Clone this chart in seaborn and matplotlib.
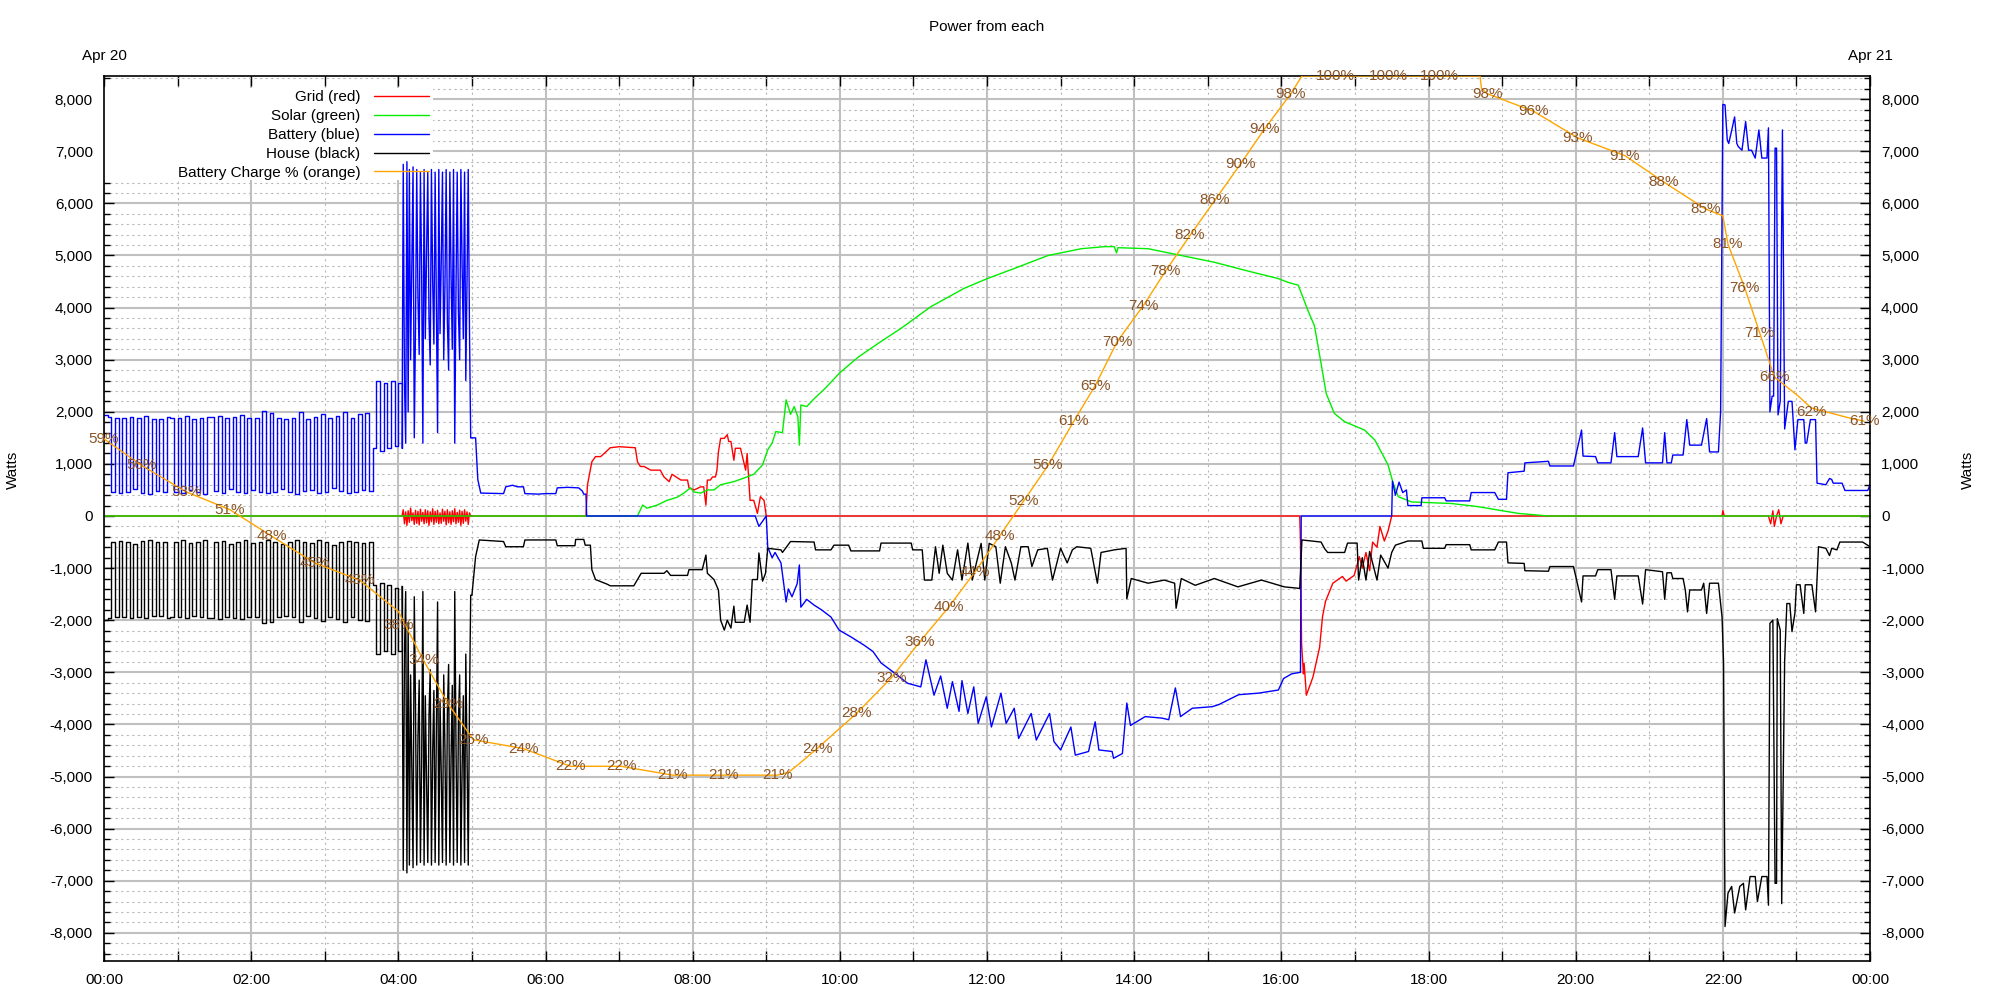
import numpy as np
import pandas as pd
import seaborn as sns
import matplotlib.pyplot as plt
from matplotlib.lines import Line2D
from matplotlib.patches import Rectangle
from matplotlib.ticker import MultipleLocator

# ---- data (time in hours since midnight Apr 20, power in watts) ----
# early-morning battery / house cycling, one sample every 3 minutes from 00:00
batt_a = [1940, 1900, 470, 1880, 450, 1890, 460, 1900, 520, 1880,
          450, 1910, 430, 1870, 480, 1860, 460, 1900, 1880, 470,
          1890, 440, 1910, 500, 1870, 460, 1880, 430, 1900, 1900,
          480, 1920, 450, 1880, 510, 1900, 470, 1930, 440, 1880,
          500, 1890, 460, 2010, 440, 1980, 470, 1880, 520, 1860,
          460, 1890, 430, 1990, 480, 1870, 500, 1900, 440, 1960,
          460, 1880, 530, 1920, 480, 1990, 450, 1880, 470, 1950,
          500, 1970, 480,
          1300, 2600, 1250, 2550, 1300, 2600, 1350, 2550, 1300]
house_a = [-1990, -1950, -500, -1930, -480, -1940, -490, -1950, -540, -1930,
           -480, -1960, -460, -1920, -500, -1910, -490, -1950, -1930, -500,
           -1940, -470, -1960, -520, -1920, -490, -1930, -460, -1950, -1950,
           -500, -1970, -480, -1930, -530, -1950, -500, -1980, -470, -1930,
           -520, -1940, -490, -2060, -470, -2030, -500, -1930, -540, -1910,
           -490, -1940, -460, -2040, -500, -1920, -520, -1950, -470, -2010,
           -490, -1930, -550, -1970, -500, -2040, -480, -1930, -500, -2000,
           -520, -2020, -500,
           -1330, -2640, -1290, -2590, -1330, -2640, -1380, -2590, -1340]

# 04:03 - 05:00, one sample per minute
batt_b = [1300, 6750, 2600, 1400, 6800, 2000, 6650, 3000, 4800, 6700,
          1500, 3600, 6650, 4200, 3100, 6600, 4700, 1400, 6650, 3400,
          5000, 6600, 3800, 2900, 6650, 4500, 3300, 6600, 4100, 1600,
          6650, 3500, 4900, 6600, 3000, 4400, 6650, 3700, 2800, 6600,
          4600, 3200, 6650, 1400, 4300, 6600, 3900, 3000, 6650, 4800,
          3400, 6600, 2600, 4500, 6650, 3600, 1500, 1500]
house_b = [-1350, -6800, -2650, -1450, -6850, -2050, -6700, -3050, -4850, -6750,
           -1550, -3650, -6700, -4250, -3150, -6650, -4750, -1450, -6700, -3450,
           -5050, -6650, -3850, -2950, -6700, -4550, -3350, -6650, -4150, -1650,
           -6700, -3550, -4950, -6650, -3050, -4450, -6700, -3750, -2850, -6650,
           -4650, -3250, -6700, -1450, -4350, -6650, -3950, -3050, -6700, -4850,
           -3450, -6650, -2650, -4550, -6700, -3650, -1520, -1520]
grid_b = [0, 120, -150, 80, -180, 100, -120, 150, -90, 60,
          -160, 110, -140, 90, -170, 130, -100, 70, -150, 120,
          -130, 100, -180, 80, -110, 140, -160, 90, -120, 110,
          -150, 60, -140, 130, -100, 90, -170, 120, -130, 80,
          -160, 100, -110, 140, -150, 70, -120, 110, -180, 90,
          -140, 120, -100, 80, -160, 60, 0, 0]

grid_t = [0, 4.05, 5.0, 6.55, 6.57, 6.63, 6.68, 6.75, 6.82, 6.88, 7.0, 7.22, 7.25, 7.29,
          7.34, 7.43, 7.56, 7.61, 7.68, 7.72, 7.84, 7.93, 7.95, 8.02, 8.11, 8.15, 8.18,
          8.2, 8.24, 8.27, 8.31, 8.33, 8.35, 8.38, 8.43, 8.47, 8.49, 8.52, 8.56, 8.58,
          8.65, 8.72, 8.74, 8.78, 8.83, 8.88, 8.92, 8.97, 9.0, 16.25, 16.26, 16.275,
          16.3, 16.31, 16.34, 16.43, 16.52, 16.56, 16.6, 16.7, 16.83, 16.88, 16.99,
          17.06, 17.1, 17.15, 17.2, 17.24, 17.3, 17.34, 17.4, 17.45, 17.5, 21.99, 22.0,
          22.02, 22.62, 22.65, 22.68, 22.7, 22.73, 22.76, 22.79, 22.82, 24.0]
grid_w = [0, 0, 0, 0, 595, 1040, 1140, 1140, 1230, 1310, 1330, 1310, 1040, 950,
          950, 880, 880, 750, 660, 800, 690, 690, 540, 500, 560, 560, 210,
          690, 690, 750, 750, 880, 1230, 1490, 1490, 1560, 1430, 1430, 1070, 1300,
          1300, 880, 1200, 300, 300, 50, 370, 300, 0, 0, -490, -2440,
          -3030, -2830, -3440, -3090, -2520, -1930, -1640, -1290, -1160, -1250, -1140,
          -780, -1000, -700, -1050, -500, -600, -200, -480, -290, 0, 0, 100,
          0, 0, -150, 100, -200, 0, 120, -150, 0, 0]

solar_t = [0, 7.25, 7.32, 7.38, 7.52, 7.65, 7.79, 7.88, 7.97, 8.02, 8.11, 8.2, 8.29,
           8.38, 8.56, 8.74, 8.83, 8.95, 9.02, 9.08, 9.13, 9.22, 9.27, 9.33, 9.38,
           9.43, 9.45, 9.47, 9.55, 9.65, 9.8, 10.0, 10.25, 10.56, 10.83, 11.24,
           11.69, 12.01, 12.37, 12.83, 13.28, 13.6, 13.73, 13.76, 13.78, 14.19,
           14.64, 15.09, 15.55, 15.95, 16.1, 16.23, 16.36, 16.45, 16.54, 16.61,
           16.72, 16.86, 17.13, 17.27, 17.38, 17.45, 17.52, 17.59, 17.77, 18.31,
           18.67, 19.22, 19.63, 24.0]
solar_w = [0, 0, 210, 150, 210, 300, 360, 440, 540, 460, 440, 500, 500,
           600, 660, 750, 800, 980, 1270, 1400, 1620, 1600, 2230, 1950, 2100,
           1900, 1360, 2130, 2100, 2250, 2450, 2750, 3050, 3350, 3600, 4020,
           4370, 4560, 4750, 5000, 5130, 5170, 5170, 5050, 5150, 5130,
           5000, 4870, 4700, 4560, 4480, 4430, 3950, 3650, 2930, 2350,
           1970, 1810, 1650, 1460, 1170, 980, 630, 370, 270, 240,
           180, 50, 0, 0]

batt_t = [5.0, 5.05, 5.08, 5.12, 5.43, 5.46, 5.55, 5.62, 5.7, 5.72, 5.9, 6.0, 6.14,
          6.16, 6.3, 6.45, 6.5, 6.52, 6.55, 6.56, 8.85, 8.9, 8.95, 9.0, 9.02, 9.08,
          9.12, 9.2, 9.27, 9.3, 9.35, 9.42, 9.45, 9.47, 9.55, 9.65, 9.75, 9.88, 9.99,
          10.15, 10.33, 10.45, 10.56, 10.74, 10.92, 11.1, 11.17, 11.28, 11.37, 11.46,
          11.53, 11.62, 11.66, 11.74, 11.82, 11.88, 11.99, 12.06, 12.19, 12.26, 12.37,
          12.43, 12.6, 12.67, 12.85, 12.91, 13.0, 13.14, 13.2, 13.38, 13.47, 13.52,
          13.7, 13.72, 13.84, 13.9, 13.95, 14.15, 14.38, 14.47, 14.56, 14.63, 14.79,
          15.06, 15.15, 15.42, 15.69, 15.96, 16.03, 16.14, 16.26, 16.27, 17.5, 17.51,
          17.55, 17.6, 17.65, 17.7, 17.72, 17.9, 17.91, 18.22, 18.24, 18.56, 18.58,
          18.9, 18.95, 19.06, 19.08, 19.3, 19.31, 19.63, 19.65, 19.97, 20.0, 20.08,
          20.1, 20.27, 20.3, 20.48, 20.53, 20.56, 20.85, 20.91, 20.95, 21.18, 21.21,
          21.24, 21.3, 21.32, 21.46, 21.51, 21.55, 21.71, 21.78, 21.82, 21.94, 21.97,
          22.0, 22.03, 22.06, 22.08, 22.12, 22.16, 22.19, 22.21, 22.26, 22.31, 22.35,
          22.39, 22.44, 22.49, 22.53, 22.6, 22.62, 22.64, 22.67, 22.69, 22.71, 22.73,
          22.75, 22.78, 22.81, 22.84, 22.89, 22.94, 22.98, 23.02, 23.1, 23.12, 23.14,
          23.19, 23.26, 23.28, 23.4, 23.45, 23.48, 23.5, 23.62, 23.66, 23.97, 24.0]
batt_w = [1500, 1500, 700, 440, 430, 560, 590, 560, 560, 430, 420, 430, 430,
          540, 550, 540, 480, 420, 420, 0, 0, -200, -100, 0, -600, -800,
          -700, -900, -1650, -1400, -1550, -1300, -940, -1750, -1600, -1710, -1800, -1940, -2190,
          -2320, -2480, -2600, -2820, -3010, -3210, -3280, -2760, -3440, -3070, -3690,
          -3180, -3750, -3160, -3790, -3280, -3980, -3470, -4050, -3400, -3980, -3690,
          -4270, -3790, -4300, -3790, -4330, -4490, -4050, -4590, -4520, -3950, -4490,
          -4520, -4650, -4560, -3590, -4020, -3850, -3880, -3910, -3300, -3850, -3690,
          -3660, -3620, -3430, -3400, -3340, -3120, -3030, -3000, 0, 0, 670,
          400, 650, 450, 500, 200, 200, 350, 350, 290, 290, 450,
          450, 320, 320, 830, 860, 1020, 1050, 960, 960, 1150, 1650,
          1150, 1140, 1020, 1020, 1600, 1140, 1140, 1690, 1020, 1020, 1600,
          1020, 1020, 1170, 1170, 1850, 1360, 1360, 1870, 1230, 1230, 2000,
          7900, 7890, 7220, 7150, 7400, 7660, 7150, 7090, 7020, 7570, 7020,
          7020, 6870, 7410, 6870, 6870, 7450, 2000, 2300, 2300, 7060, 7060,
          1940, 2200, 7410, 1670, 2200, 2200, 1270, 1850, 1850, 1400, 1400,
          1850, 1850, 630, 600, 720, 700, 630, 630, 490, 490, 600]

house_t = [5.0, 5.05, 5.1, 5.43, 5.46, 5.7, 5.72, 6.14, 6.16, 6.4, 6.41, 6.52, 6.54,
           6.61, 6.63, 6.68, 6.84, 6.88, 7.2, 7.25, 7.3, 7.61, 7.65, 7.7, 7.93, 7.95,
           8.13, 8.18, 8.2, 8.29, 8.35, 8.38, 8.43, 8.47, 8.52, 8.56, 8.58, 8.7, 8.74,
           8.78, 8.81, 8.88, 8.9, 8.95, 8.99, 9.02, 9.2, 9.22, 9.33, 9.65, 9.67, 9.88,
           9.92, 10.12, 10.15, 10.54, 10.56, 10.97, 10.99, 11.12, 11.15, 11.25, 11.3,
           11.35, 11.4, 11.46, 11.53, 11.6, 11.66, 11.74, 11.8, 11.92, 11.97, 12.03,
           12.12, 12.18, 12.25, 12.33, 12.38, 12.46, 12.56, 12.61, 12.69, 12.82, 12.89,
           13.0, 13.09, 13.16, 13.22, 13.41, 13.5, 13.55, 13.73, 13.89, 13.9, 13.96,
           14.19, 14.41, 14.55, 14.57, 14.64, 14.83, 15.09, 15.41, 15.73, 16.04, 16.25,
           16.28, 16.54, 16.59, 16.63, 16.86, 16.9, 17.03, 17.05, 17.1, 17.15, 17.2,
           17.3, 17.35, 17.45, 17.5, 17.55, 17.72, 17.91, 17.93, 18.22, 18.24, 18.56,
           18.58, 18.9, 18.95, 19.06, 19.08, 19.3, 19.31, 19.63, 19.65, 19.97, 20.0,
           20.08, 20.1, 20.27, 20.3, 20.48, 20.53, 20.56, 20.85, 20.91, 20.95, 21.18,
           21.21, 21.24, 21.3, 21.32, 21.46, 21.49, 21.52, 21.55, 21.71, 21.74, 21.78,
           21.82, 21.94, 21.99, 22.01, 22.03, 22.07, 22.12, 22.16, 22.23, 22.28, 22.31,
           22.37, 22.44, 22.47, 22.53, 22.6, 22.62, 22.64, 22.68, 22.71, 22.73, 22.74,
           22.78, 22.8, 22.84, 22.87, 22.91, 22.94, 22.98, 23.0, 23.05, 23.1, 23.12,
           23.21, 23.26, 23.3, 23.4, 23.45, 23.48, 23.55, 23.59, 23.9, 24.0]
house_w = [-1520, -780, -460, -490, -590, -590, -460, -460, -570, -570, -450, -450, -560,
           -560, -1030, -1220, -1310, -1340, -1340, -1220, -1100, -1100, -1050, -1140, -1140, -1030,
           -1030, -750, -1100, -1220, -1420, -2000, -2190, -2000, -2150, -1730, -2040, -2040, -1710,
           -2040, -1220, -1220, -710, -1250, -1100, -620, -650, -700, -490, -500, -650, -650,
           -560, -560, -670, -670, -520, -520, -650, -650, -1230, -1230, -590,
           -1100, -560, -1100, -1230, -650, -1230, -520, -1230, -525, -1230, -525,
           -590, -1290, -590, -900, -1230, -590, -590, -970, -650, -620, -1230,
           -620, -900, -650, -590, -620, -1290, -700, -650, -620, -1590, -1200,
           -1290, -1230, -1290, -1770, -1200, -1330, -1200, -1360, -1230, -1360, -1390,
           -460, -500, -630, -700, -700, -520, -520, -1230, -800, -1230, -680,
           -1230, -750, -1000, -700, -560, -480, -480, -620, -620, -550, -550,
           -650, -650, -500, -500, -900, -910, -1050, -1060, -970, -970, -1150,
           -1650, -1150, -1150, -1030, -1030, -1600, -1150, -1150, -1690, -1030, -1070,
           -1600, -1090, -1090, -1200, -1200, -1420, -1840, -1420, -1420, -1290, -1870,
           -1290, -1290, -1950, -2830, -7880, -7240, -7110, -7620, -7110, -7050, -7560,
           -6920, -6920, -7400, -6920, -6920, -7470, -2060, -2000, -7050, -7050, -1970,
           -2190, -7440, -2780, -1680, -1680, -2220, -1860, -1320, -1320, -1870, -1320,
           -1320, -1840, -590, -620, -760, -620, -650, -500, -500, -590]

# battery state of charge (percent), line and its labels
soc_t = [0.0, 0.51, 1.12, 1.71, 2.28, 2.86, 3.48, 4.0, 4.34, 4.68, 5.02, 5.70, 6.34,
         7.03, 7.73, 8.42, 9.15, 9.3, 9.45, 9.69, 10.23, 10.7, 11.08, 11.48, 11.84,
         12.17, 12.5, 12.83, 13.18, 13.47, 13.77, 14.12, 14.43, 14.76, 15.1, 15.44,
         15.77, 16.13, 16.28, 16.73, 17.45, 18.15, 18.7, 18.72, 18.8, 19.43, 20.03,
         20.67, 21.2, 21.76, 22.0, 22.07, 22.3, 22.5, 22.7, 22.85, 23.03, 23.2, 23.7,
         23.92]
soc_pct = [59, 56, 53, 51, 48, 45, 43, 39.5, 34, 29, 25, 24, 22,
           22, 21, 21, 21, 21.3, 22.3, 24, 28, 32, 36, 40, 44,
           48, 52, 56, 61, 65, 70, 74, 78, 82, 86, 90,
           94, 98, 100, 100, 100, 100, 100, 98.6, 98, 96, 93,
           91, 88, 85, 84.2, 81, 76, 71, 66, 65, 63.8, 62.5, 61.4,
           61]
label_t = [0.0, 0.51, 1.12, 1.71, 2.28, 2.86, 3.48, 4.0, 4.34, 4.68, 5.02, 5.70, 6.34,
           7.03, 7.73, 8.42, 9.15, 9.69, 10.23, 10.7, 11.08, 11.48, 11.84, 12.17, 12.5,
           12.83, 13.18, 13.47, 13.77, 14.12, 14.43, 14.76, 15.1, 15.44, 15.77, 16.13,
           16.73, 17.45, 18.15, 18.8, 19.43, 20.03, 20.67, 21.2, 21.76, 22.07, 22.3,
           22.5, 22.7, 23.2, 23.92]
label_pct = [59, 56, 53, 51, 48, 45, 43, 38, 34, 29, 25, 24, 22,
             22, 21, 21, 21, 24, 28, 32, 36, 40, 44, 48, 52,
             56, 61, 65, 70, 74, 78, 82, 86, 90, 94, 98,
             100, 100, 100, 98, 96, 93, 91, 88, 85, 81, 76,
             71, 66, 62, 61]

xtick_pos = [0, 2, 4, 6, 8, 10, 12, 14, 16, 18, 20, 22, 24]
xtick_labels = ['00:00', '02:00', '04:00', '06:00', '08:00', '10:00', '12:00',
                '14:00', '16:00', '18:00', '20:00', '22:00', '00:00']
ytick_vals = list(range(-8000, 8001, 1000))

series = ['Grid (red)', 'Solar (green)', 'Battery (blue)', 'House (black)',
          'Battery Charge % (orange)']
colors = ['#ff0000', '#00ee00', '#0000ff', '#000000', '#ffa500']
label_color = '#8a5426'

sns.set_theme(style='white')
plt.rcParams['font.family'] = ['Liberation Sans', 'DejaVu Sans']
plt.rcParams['text.color'] = 'black'

fig = plt.figure(figsize=(20, 10), dpi=100)
ax = fig.add_axes([0.052, 0.039, 0.883, 0.885])
ax2 = ax.twinx()

ta = np.arange(len(batt_a)) * 3 / 60
tb = 4.05 + np.arange(len(batt_b)) / 60


def line(a, x, y, color, **kw):
    sns.lineplot(x=x, y=y, ax=a, color=color, lw=1.0, estimator=None,
                 sort=False, legend=False, **kw)


line(ax, grid_t, grid_w, colors[0])
line(ax, tb, grid_b, colors[0])
line(ax, solar_t, solar_w, colors[1])
line(ax, ta, batt_a, colors[2], drawstyle='steps-post')
line(ax, tb, batt_b, colors[2])
line(ax, batt_t, batt_w, colors[2])
line(ax, ta, house_a, colors[3], drawstyle='steps-post')
line(ax, tb, house_b, colors[3])
line(ax, house_t, house_w, colors[3])
line(ax2, soc_t, soc_pct, colors[4])

for t, p in zip(label_t, label_pct):
    ax2.text(t, p, f'{p}%', ha='center', va='center', color=label_color,
             fontsize=11, clip_on=False, zorder=6)

ax.set_xlim(0, 24)
ax.set_ylim(-8541, 8445)
ax2.set_ylim(0, 100)
ax2.set_yticks([])
ax2.grid(False)
for s in ax2.spines.values():
    s.set_visible(False)

ax.set_xticks(xtick_pos)
ax.set_xticklabels(xtick_labels)
ax.xaxis.set_minor_locator(MultipleLocator(1))
ax.set_yticks(ytick_vals)
ax.set_yticklabels([f'{v:,}' for v in ytick_vals])
ax.yaxis.set_minor_locator(MultipleLocator(200))
ax.set_xlabel('')
ax.set_ylabel('')

ax.tick_params(which='both', direction='in', bottom=True, top=True, left=True,
               right=True, labelright=True, color='black', labelcolor='black',
               labelsize=11)
ax.tick_params(which='major', length=7, width=1)
ax.tick_params(axis='y', which='minor', length=4, width=1)
ax.tick_params(axis='x', which='minor', length=7, width=1)
ax.tick_params(axis='x', pad=9)
ax.tick_params(axis='y', pad=8)

ax.set_axisbelow(True)
ax.grid(True, which='major', color='#c0c0c0', lw=1.5, ls='-')
ax.grid(True, which='minor', color='#b8b8b8', lw=0.8, ls=(0, (2, 3)))
for s in ax.spines.values():
    s.set_color('black')
    s.set_linewidth(1.2)

# opaque key background, as in the original (hides the grid, not the data)
ax.add_patch(Rectangle((0, 0.882), 0.1863, 0.104, transform=ax.transAxes,
                       facecolor='white', edgecolor='none', zorder=1))

handles = [Line2D([], [], color=c, lw=1.0) for c in colors]
ax.legend(handles, series, loc='upper right', bbox_to_anchor=(0.187, 0.99),
          markerfirst=False, frameon=False, fontsize=11, handlelength=3.6,
          handletextpad=0.9, labelspacing=0.32, borderpad=0.35,
          borderaxespad=0)

fig.text(0.4935, 0.973, 'Power from each', ha='center', va='center', fontsize=11)
fig.text(0.052, 0.944, 'Apr 20', ha='center', va='center', fontsize=11)
fig.text(0.935, 0.944, 'Apr 21', ha='center', va='center', fontsize=11)
fig.text(0.0065, 0.53, 'Watts', rotation=90, ha='center', va='center', fontsize=11)
fig.text(0.984, 0.53, 'Watts', rotation=90, ha='center', va='center', fontsize=11)

fig.savefig('out.png', dpi=100, facecolor='white')
